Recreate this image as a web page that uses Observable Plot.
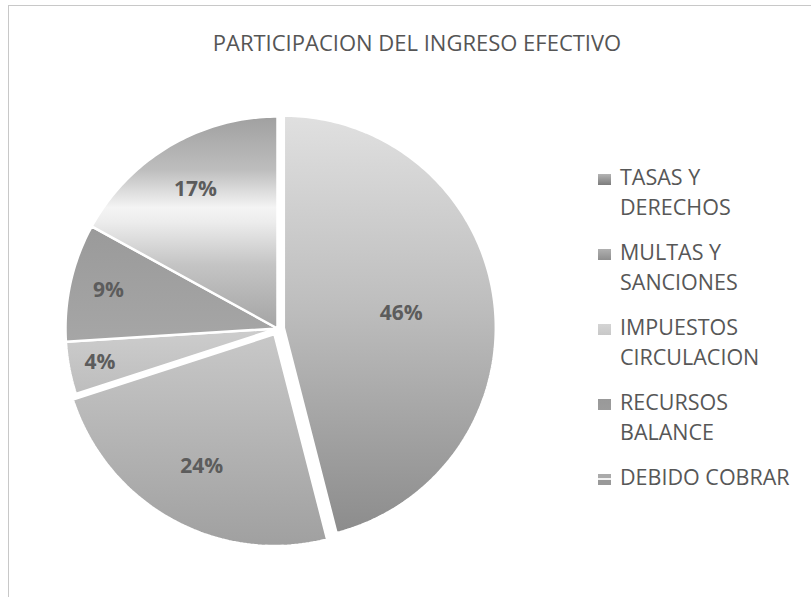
<!DOCTYPE html>
<html>
<head>
<meta charset="utf-8">
<script src="https://cdn.jsdelivr.net/npm/d3@7"></script>
<script src="https://cdn.jsdelivr.net/npm/@observablehq/plot@0.6"></script>
<style>
  html, body { margin: 0; padding: 0; background: #ffffff; }
  #wrap { position: relative; width: 811px; height: 597px; overflow: hidden; font-family: "Open Sans", "Liberation Sans", sans-serif; }
  #chart { position: absolute; left: 0; top: 0; }
  #frame { position: absolute; left: 8px; top: 5px; width: 820px; height: 620px; border-left: 1px solid #c8c8c8; border-top: 1px solid #c8c8c8; pointer-events: none; }
  #title { position: absolute; left: 417px; top: 28px; transform: translateX(-50%); white-space: nowrap; font-size: 22px; line-height: 28px; color: #555555; }
  #legend { position: absolute; left: 598px; top: 162px; }
  .item { position: relative; padding-left: 22px; margin-bottom: 15px; font-size: 21.5px; line-height: 30px; color: #575757; white-space: pre-line; }
  .swatch { position: absolute; left: 0; top: 12px; width: 13px; height: 11px; }
</style>
</head>
<body>
<div id="wrap">
  <div id="chart"></div>
  <div id="frame"></div>
  <div id="title"></div>
  <div id="legend"></div>
</div>
<script>
// ---- data ----
const chartTitle = "PARTICIPACION DEL INGRESO EFECTIVO";
const categories = ["TASAS Y\nDERECHOS", "MULTAS Y\nSANCIONES", "IMPUESTOS\nCIRCULACION", "RECURSOS\nBALANCE", "DEBIDO COBRAR"];
const values = [46, 24, 4, 9, 17];
const pctLabels = ["46%", "24%", "4%", "9%", "17%"];
const exploded = [true, true, false, false, false];

// ---- styles (grey gradients, top to bottom) ----
const gradientStops = [
  [[0, "#e0e0e0"], [0.45, "#bebebe"], [1, "#8c8c8c"]],
  [[0, "#c8c8c8"], [1, "#a0a0a0"]],
  [[0, "#cdcdcd"], [1, "#bdbdbd"]],
  [[0, "#9a9a9a"], [1, "#a6a6a6"]],
  [[0, "#a0a0a0"], [0.25, "#bdbdbd"], [0.43, "#f4f4f4"], [0.5, "#ececec"], [0.7, "#c4c4c4"], [1, "#a4a4a4"]]
];
const swatchStops = [
  [[0, "#b4b4b4"], [1, "#7c7c7c"]],
  [[0, "#b0b0b0"], [1, "#8e8e8e"]],
  [[0, "#d4d4d4"], [1, "#c8c8c8"]],
  [[0, "#999999"], [1, "#9c9c9c"]],
  [[0, "#aaaaaa"], [0.35, "#aaaaaa"], [0.36, "#f2f2f2"], [0.55, "#f2f2f2"], [0.56, "#999999"], [1, "#999999"]]
];

const cx = 277, cy = 328, R = 212;     // pie centre and radius in pixels
const explodeDist = 0.03;               // fraction of radius

// ---- geometry through d3.pie ----
const arcs = d3.pie().sort(null).value(d => d)(values);
const total = d3.sum(values);
const slices = arcs.map((a, i) => {
  const mid = (a.startAngle + a.endAngle) / 2;
  const off = exploded[i] ? explodeDist : 0;
  return {
    i, cat: categories[i], value: values[i], label: pctLabels[i],
    start: a.startAngle, end: a.endAngle, mid,
    ox: off * Math.sin(mid), oy: off * Math.cos(mid),
    fill: `url(#slice-grad-${i})`
  };
});
const outline = slices.flatMap(s => {
  const n = Math.max(8, Math.ceil((s.end - s.start) / (Math.PI / 180)));
  const pts = [{...s, px: s.ox, py: s.oy}];
  for (let k = 0; k <= n; k++) {
    const t = s.start + (s.end - s.start) * k / n;
    pts.push({...s, px: s.ox + Math.sin(t), py: s.oy + Math.cos(t)});
  }
  return pts;
});
// label distance: smaller slices push labels outward (best-fit style)
const labelDist = s => 0.88 - 0.7 * (s.value / total);

const chart = Plot.plot({
  width: 811,
  height: 597,
  margin: 0,
  style: {background: "transparent", overflow: "visible"},
  x: {domain: [-1, 1], range: [cx - R, cx + R], axis: null},
  y: {domain: [-1, 1], range: [cy + R, cy - R], axis: null},
  color: {type: "identity"},
  marks: [
    Plot.line(outline, {
      x: "px", y: "py", z: "i", fill: "fill",
      stroke: "white", strokeWidth: 2.5, curve: "linear-closed", strokeLinejoin: "miter"
    }),
    Plot.text(slices, {
      x: s => s.ox + labelDist(s) * Math.sin(s.mid),
      y: s => s.oy + labelDist(s) * Math.cos(s.mid),
      text: "label",
      fontSize: 21,
      fontWeight: "bold",
      fontFamily: "Open Sans, sans-serif",
      fill: "#5c5c5c"
    })
  ]
});

const defs = d3.select(chart).insert("defs", ":first-child");
gradientStops.forEach((stops, i) => {
  const g = defs.append("linearGradient").attr("id", `slice-grad-${i}`)
    .attr("x1", 0).attr("y1", 0).attr("x2", 0).attr("y2", 1);
  stops.forEach(([o, c]) => g.append("stop").attr("offset", o).attr("stop-color", c));
});
document.getElementById("chart").appendChild(chart);

document.getElementById("title").textContent = chartTitle;
const legend = d3.select("#legend");
categories.forEach((c, i) => {
  const item = legend.append("div").attr("class", "item");
  item.append("div").attr("class", "swatch")
    .style("background", `linear-gradient(to bottom, ${swatchStops[i].map(([o, col]) => `${col} ${o * 100}%`).join(", ")})`);
  item.append("span").text(c);
});
</script>
</body>
</html>
